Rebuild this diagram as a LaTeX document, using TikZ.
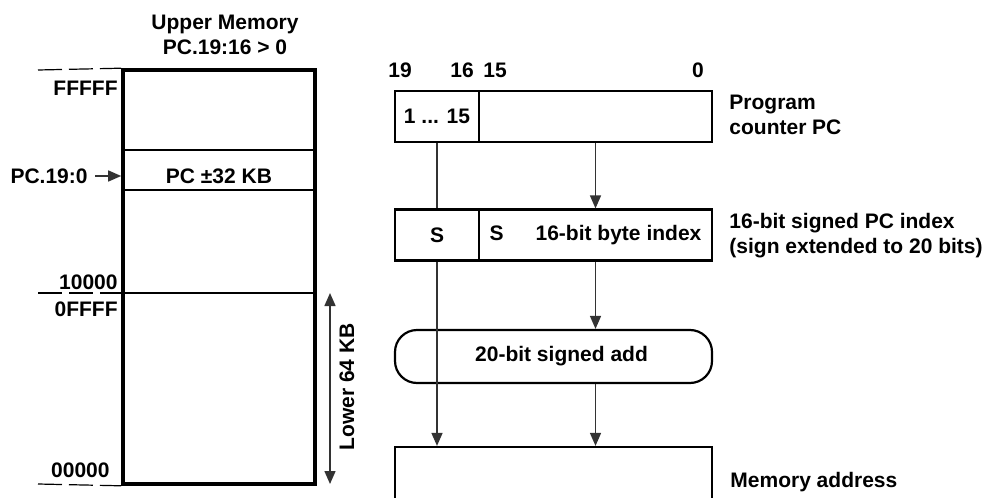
\documentclass[tikz,border=0pt]{standalone}
\usepackage{fontspec}
\setmainfont{Liberation Sans}
\usetikzlibrary{arrows.meta}

\begin{document}
\begin{tikzpicture}[x=0.5pt,y=-0.5pt,
  every node/.style={font=\fontsize{10.5}{12.5}\selectfont\bfseries, text=black},
  txt/.style={inner sep=0pt},
  cell/.style={draw, line width=1.1pt, inner sep=0pt, minimum height=25.5pt},
  thinline/.style={line width=0.6pt},
  wire/.style={line width=0.75pt, draw=black!80},
  arr/.style={wire, -{Triangle[length=6.5pt,width=5.5pt]}},
  addrline/.style={line width=0.6pt, dash pattern=on 12pt off 3.5pt}]
\clip (0,0) rectangle (988,497);
\node[txt, align=center] (upper) at (225,35) {Upper Memory\\PC.19:16 > 0};
\node[draw, line width=1.8pt, inner sep=0pt, minimum width=96pt, minimum height=207pt] (mem) at (219,277) {};
\draw[thinline] (mem.west |- 0,150) -- (mem.east |- 0,150);
\draw[thinline] (mem.west |- 0,190) -- (mem.east |- 0,190);
\draw[thinline] (mem.west |- 0,293) -- (mem.east |- 0,293);
\node[txt] (pcrange) at (219,176) {PC ±32 KB};
\draw[addrline] (38,70) -- (mem.north west);
\draw[addrline] (38,293) -- (mem.west |- 0,293);
\draw[addrline] (38,484) -- (mem.south west);
\node[txt, anchor=east] (tfffff) at (118,88) {FFFFF};
\node[txt, anchor=east] (t10000) at (118,282) {10000};
\node[txt, anchor=east] (t0ffff) at (118,309) {0FFFF};
\node[txt, anchor=east] (t00000) at (110,470) {00000};
\node[txt, anchor=east] (pcl) at (88,176) {PC.19:0};
\draw[arr] ([xshift=3.5pt]pcl.east) -- (pcl.east -| mem.west);
\coordinate (lowtop) at (330,293);
\coordinate (lowbot) at (330,484);
\draw[wire, {Triangle[length=6.5pt,width=5.5pt]}-{Triangle[length=6.5pt,width=5.5pt]}] (lowtop) -- (lowbot);
\node[txt, rotate=90] (lower) at (347,387) {Lower 64 KB};
\node[txt] (b19) at (400,70) {19};
\node[txt] (b16) at (462,70) {16};
\node[txt] (b15) at (495,70) {15};
\node[txt] (b0) at (698,70) {0};
\node[cell, minimum width=42pt] (pchi) at (437,116.5) {1 ... 15};
\node[cell, minimum width=116.5pt] (pclo) at (595.5,116.5) {};
\node[cell, minimum width=42pt] (sgn) at (437,235) {S};
\node[cell, minimum width=116.5pt] (idx) at (595.5,235) {S\hspace{16pt}16-bit byte index};
\node[cell, rounded corners=11pt, minimum width=158.5pt, minimum height=26.5pt] (add) at (553.5,356.5) {\hspace{8pt}20-bit signed add};
\node[cell, minimum width=158.5pt, minimum height=50pt] (madr) at (553.5,497) {};
\node[txt, anchor=west, align=left] (pclab) at (729,114.5) {Program\\counter PC};
\node[txt, anchor=west, align=left] (idxlab) at (729,235.5) {16-bit signed PC index\\(sign extended to 20 bits)};
\node[txt, anchor=west] (madrlab) at (730,482) {Memory address};
\draw[wire] (pchi.south) -- (sgn.north);
\draw[arr] (sgn.south) -- (sgn.south |- madr.north);
\draw[arr] (pclo.south) -- (idx.north);
\draw[arr] (idx.south) -- (add.north -| idx.south);
\draw[arr] (add.south -| idx.south) -- (madr.north -| idx.south);
\end{tikzpicture}
\end{document}
